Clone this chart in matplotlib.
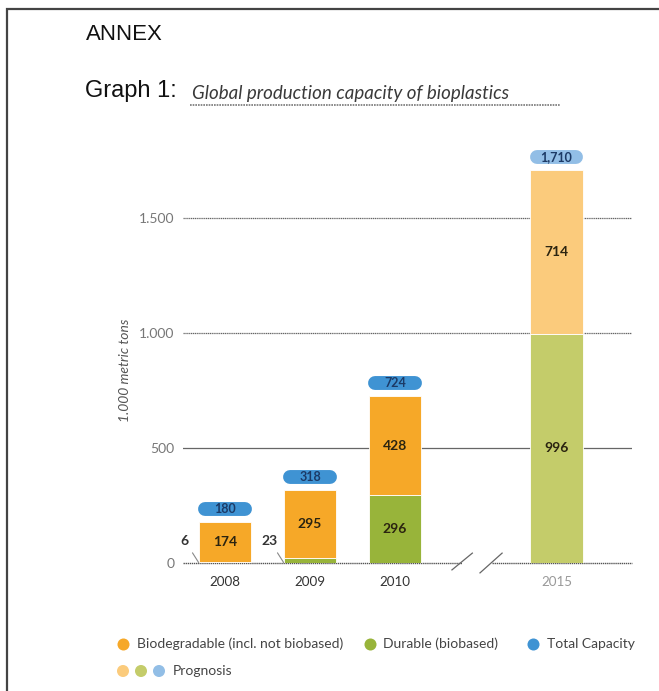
import matplotlib
matplotlib.use("Agg")
import matplotlib.pyplot as plt

# values in 1,000 metric tons
years = ["2008", "2009", "2010", "2015"]
biodegradable = [174, 295, 428, 714]
durable = [6, 23, 296, 996]
total = [180, 318, 724, 1710]
prognosis = [False, False, False, True]
y_ticks = [0, 500, 1000, 1500]
y_tick_labels = ["0", "500", "1.000", "1.500"]

ORANGE, GREEN, BLUE = "#F6A828", "#98B43A", "#3F93D3"
ORANGE_P, GREEN_P, BLUE_P = "#FBCB7C", "#C4CC6A", "#92BEE6"
BODY = "Lato"

W, H = 659, 691
fig = plt.figure(figsize=(W / 100, H / 100), dpi=100)

# page layer in pixel coordinates (frame, headings, legend)
page = fig.add_axes([0, 0, 1, 1])
page.set_xlim(0, W); page.set_ylim(H, 0); page.axis("off")
page.plot([7, 7, W], [H, 9, 9], color="#444", lw=1.6, solid_joinstyle="miter")
page.text(86, 34, "ANNEX", fontsize=16, family="Liberation Sans", color="#111", va="center")
page.text(85, 91, "Graph 1:", fontsize=17, family="Liberation Sans", color="#111", va="center")
page.text(192, 93, "Global production capacity of bioplastics", fontsize=13.5, family=BODY,
          style="italic", color="#3a3a3a", va="center")
page.plot([190, 560], [105, 105], color="#777", lw=1.2, ls=(0, (1, 0.6)))

# legend
leg_font = dict(fontsize=10, family=BODY, color="#444", va="center")
dot = 75
page.scatter([123], [644], s=dot, color=ORANGE, lw=0)
page.text(137, 644, "Biodegradable (incl. not biobased)", **leg_font)
page.scatter([370], [644], s=dot, color=GREEN, lw=0)
page.text(383, 644, "Durable (biobased)", **leg_font)
page.scatter([533], [644], s=dot, color=BLUE, lw=0)
page.text(547, 644, "Total Capacity", **leg_font)
page.scatter([123, 141, 159], [671, 671, 671], s=dot, color=[ORANGE_P, GREEN_P, BLUE_P], lw=0)
page.text(173, 671, "Prognosis", **leg_font)

# chart axes: baseline at y=563 px, 0.23 px per 1,000 t
px_per_unit = 0.23
ax_left, ax_right, ax_base, ax_top = 183, 632, 563, 150
ax = fig.add_axes([ax_left / W, 1 - ax_base / H, (ax_right - ax_left) / W, (ax_base - ax_top) / H])
ax.set_facecolor("none")
bar_step = 85  # px between bar centres
ax.set_xlim((ax_left - 225) / bar_step, (ax_right - 225) / bar_step)
ax.set_ylim(0, (ax_base - ax_top) / px_per_unit)
for s in ax.spines.values():
    s.set_visible(False)

pos = [0, 1, 2, 3.9]
bw = 0.62

for v in y_ticks[1:]:
    ls = "-" if v == 500 else (0, (1, 0.5))
    ax.axhline(v, color="#666", lw=0.9, ls=ls, zorder=0)
# baseline with axis break before the prognosis year
ax.plot([ax.get_xlim()[0], 2.79], [0, 0], color="#555", lw=1.0, ls=(0, (1, 0.5)), clip_on=False)
ax.plot([3.14, ax.get_xlim()[1]], [0, 0], color="#555", lw=1.0, ls=(0, (1, 0.5)), clip_on=False)
ax.plot([2.67, 2.91], [-30, 43], color="#666", lw=0.9, clip_on=False)
ax.plot([3.0, 3.26], [-43, 43], color="#666", lw=0.9, clip_on=False)

val_font = dict(ha="center", va="center", fontsize=10, fontweight="bold", family=BODY)
for x, bio, dur, tot, prog in zip(pos, biodegradable, durable, total, prognosis):
    c_bio, c_dur, c_tot = (ORANGE_P, GREEN_P, BLUE_P) if prog else (ORANGE, GREEN, BLUE)
    ax.bar(x, dur, bw, color=c_dur, edgecolor="white", lw=0.6, zorder=2)
    ax.bar(x, bio, bw, bottom=dur, color=c_bio, edgecolor="white", lw=0.6, zorder=2)
    ax.text(x, dur + bio / 2, str(bio), color="#2b2410", zorder=3, **val_font)
    if dur >= 50:
        ax.text(x, dur / 2, str(dur), color="#2b2410", zorder=3, **val_font)
    else:
        ax.annotate(str(dur), xy=(x - bw / 2, 2), xytext=(-14, 22), textcoords="offset pixels",
                    color="#333", arrowprops=dict(arrowstyle="-", color="#888", lw=0.8,
                                                  shrinkA=3, shrinkB=0), **val_font)
    # pill-shaped total label
    by = tot + 13 / px_per_unit
    ax.plot([x - 0.23, x + 0.23], [by, by], color=c_tot, lw=10, solid_capstyle="round",
            zorder=3, clip_on=False)
    ax.text(x, by, f"{tot:,}", ha="center", va="center", fontsize=9, fontweight="bold",
            family=BODY, color="#1c3a66", zorder=4)

ax.set_yticks(y_ticks, y_tick_labels)
ax.set_xticks(pos, years)
ax.tick_params(axis="y", length=0, pad=6, labelsize=10, labelcolor="#777")
ax.tick_params(axis="x", length=0, pad=9, labelsize=9.6)
for lab, prog in zip(ax.get_xticklabels(), prognosis):
    lab.set_color("#999" if prog else "#333")
for lab in ax.get_xticklabels() + ax.get_yticklabels():
    lab.set_family(BODY)

fig.text(125 / W, 1 - 370 / H, "1.000 metric tons", rotation=90, ha="center", va="center",
         fontsize=10, family=BODY, style="italic", color="#555")

fig.savefig("out.png", dpi=100)
